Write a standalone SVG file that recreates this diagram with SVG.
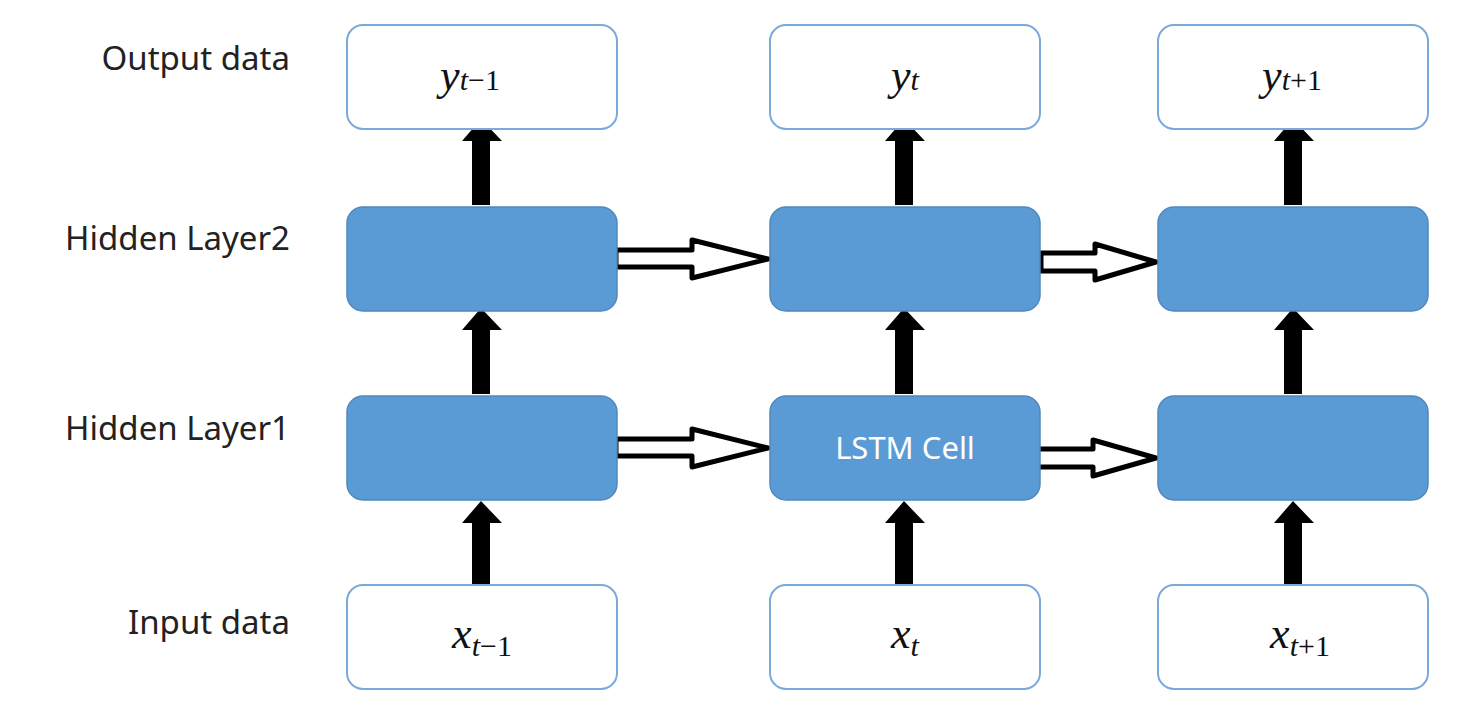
<svg xmlns="http://www.w3.org/2000/svg" width="1471" height="715" viewBox="0 0 1471 715">
<style>
.io{fill:#fff;stroke:#7aa9dc;stroke-width:2}
.h{fill:#5b9bd5;stroke:#4f88bd;stroke-width:1.5}
.lab{font-family:"Noto Sans","Liberation Sans",sans-serif;font-size:33px;fill:#222;text-anchor:end}
.m{font-family:"Liberation Serif",serif;font-style:italic;font-size:44px;fill:#111;text-anchor:middle}
.s{font-style:normal;font-size:30px}
.si{font-size:30px}
.up{fill:#000}
.ho{fill:#fff;stroke:#000;stroke-width:5;stroke-linejoin:round}
</style>
<rect width="1471" height="715" fill="#fff"/>
<g id="labels">
<text class="lab" x="290" y="70">Output data</text>
<text class="lab" x="290" y="250">Hidden Layer2</text>
<text class="lab" x="290" y="440">Hidden Layer1</text>
<text class="lab" x="290" y="634">Input data</text>
</g>
<g id="connectors">
<path class="up" d="M472 205V141H462L481 119L502 141H490V205Z"/>
<path class="up" d="M895 205V141H885L904 119L925 141H913V205Z"/>
<path class="up" d="M1284 205V141H1274L1293 119L1314 141H1302V205Z"/>
<path class="up" d="M472 394V330H462L481 308L502 330H490V394Z"/>
<path class="up" d="M895 394V330H885L904 308L925 330H913V394Z"/>
<path class="up" d="M1284 394V330H1274L1293 308L1314 330H1302V394Z"/>
<path class="up" d="M472 587V523H462L481 501L502 523H490V587Z"/>
<path class="up" d="M895 587V523H885L904 501L925 523H913V587Z"/>
<path class="up" d="M1284 587V523H1274L1293 501L1314 523H1302V587Z"/>
<path class="ho" d="M616 250H692V240L768 259L692 278V267H616Z"/>
<path class="ho" d="M616 439H692V429L768 448L692 467V456H616Z"/>
<path class="ho" d="M1041 253H1095V244L1156 262L1095 280V271H1041Z"/>
<path class="ho" d="M1034 449H1093V440L1156 458L1093 476V467H1034Z"/>
</g>
<g id="out1"><rect class="io" x="347" y="25" width="270" height="104" rx="16"/><text class="m" x="470" y="90">y<tspan class="si">t</tspan><tspan class="s">−1</tspan></text></g>
<g id="out2"><rect class="io" x="770" y="25" width="270" height="104" rx="16"/><text class="m" x="905" y="90">y<tspan class="si">t</tspan></text></g>
<g id="out3"><rect class="io" x="1158" y="25" width="270" height="104" rx="16"/><text class="m" x="1292" y="90">y<tspan class="si">t</tspan><tspan class="s">+1</tspan></text></g>
<g id="h2a"><rect class="h" x="347" y="207" width="270" height="104" rx="16"/></g>
<g id="h2b"><rect class="h" x="770" y="207" width="270" height="104" rx="16"/></g>
<g id="h2c"><rect class="h" x="1158" y="207" width="270" height="104" rx="16"/></g>
<g id="h1a"><rect class="h" x="347" y="396" width="270" height="104" rx="16"/></g>
<g id="h1b"><rect class="h" x="770" y="396" width="270" height="104" rx="16"/><text x="905" y="459" font-family="Noto Sans,Liberation Sans,sans-serif" font-size="31" fill="#fff" text-anchor="middle">LSTM Cell</text></g>
<g id="h1c"><rect class="h" x="1158" y="396" width="270" height="104" rx="16"/></g>
<g id="in1"><rect class="io" x="347" y="585" width="270" height="104" rx="16"/><text class="m" x="482" y="648">x<tspan class="si" dy="8">t</tspan><tspan class="s">−1</tspan></text></g>
<g id="in2"><rect class="io" x="770" y="585" width="270" height="104" rx="16"/><text class="m" x="905" y="648">x<tspan class="si" dy="8">t</tspan></text></g>
<g id="in3"><rect class="io" x="1158" y="585" width="270" height="104" rx="16"/><text class="m" x="1300" y="648">x<tspan class="si" dy="8">t</tspan><tspan class="s">+1</tspan></text></g>
</svg>
